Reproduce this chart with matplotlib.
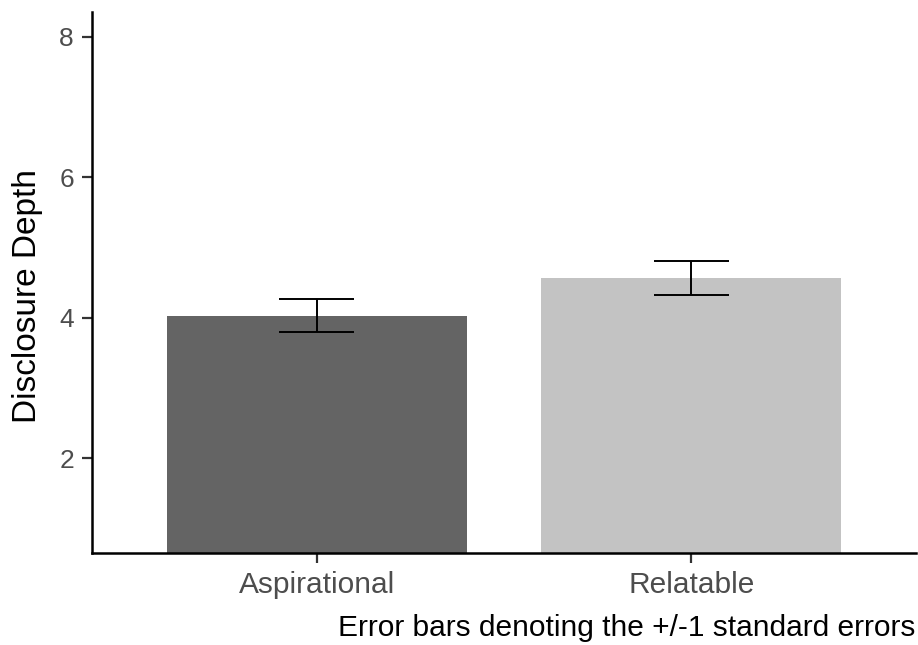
import matplotlib
matplotlib.use("Agg")
import matplotlib.pyplot as plt

categories = ["Aspirational", "Relatable"]
means = [4.03, 4.56]
ses = [0.235, 0.245]
colors = ["#646464", "#C3C3C3"]
yticks = [2, 4, 6, 8]

plt.rcParams['font.family'] = ['Liberation Sans', 'DejaVu Sans']

fig = plt.figure(figsize=(9.18, 6.45), dpi=100)
ax = fig.add_axes([92/918, 1-553/645, (916-92)/918, (553-12)/645])

x = list(range(1, len(categories)+1))
ax.bar(x, means, width=0.8, color=colors, zorder=1)
ax.errorbar(x, means, yerr=ses, fmt='none', ecolor='black', elinewidth=1.4,
            capsize=0, zorder=2)
for xi, m, s in zip(x, means, ses):
    ax.hlines([m - s, m + s], xi - 0.1, xi + 0.1, colors='black', linewidth=1.4, zorder=2)

ax.set_xlim(0.4, 2.6)
ax.set_ylim(0.65, 8.35)
ax.set_xticks(x)
ax.set_xticklabels(categories)
ax.set_yticks(yticks)
ax.set_yticklabels([str(v) for v in yticks])

for side in ['top', 'right']:
    ax.spines[side].set_visible(False)
for side in ['left', 'bottom']:
    ax.spines[side].set_linewidth(1.8)
    ax.spines[side].set_color('black')

ax.tick_params(axis='both', length=7, width=1.6, color='#333333',
               labelcolor='#4D4D4D')
ax.tick_params(axis='y', pad=6, labelsize=19)
ax.tick_params(axis='x', pad=6, labelsize=21.5)

fig.text(28/918, 1-296/645, "Disclosure Depth", rotation=90, ha='center', va='center',
         fontsize=24, color='black')

fig.text(0.997, 1-628/645, "Error bars denoting the +/-1 standard errors",
         ha='right', va='center', fontsize=21.5, color='black')

fig.savefig("out.png", dpi=100)
